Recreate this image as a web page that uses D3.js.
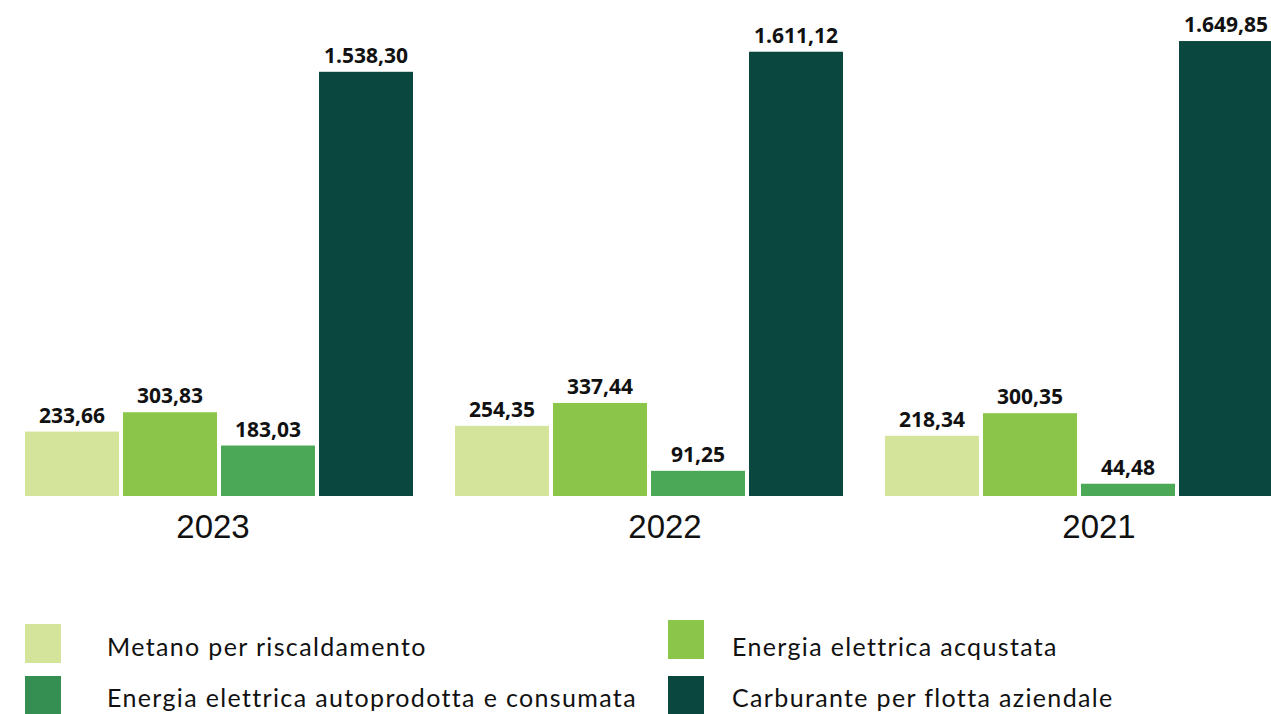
<!DOCTYPE html>
<html>
<head>
<meta charset="utf-8">
<script src="https://cdn.jsdelivr.net/npm/d3@7"></script>
<style>
  html, body { margin: 0; padding: 0; background: #fff; }
  svg { display: block; }
</style>
</head>
<body>
<svg id="chart" width="1271" height="714"></svg>
<script>
// Consumi energetici per anno (GJ)
const years = ["2023", "2022", "2021"];
const series = [
  "Metano per riscaldamento",
  "Energia elettrica acqustata",
  "Energia elettrica autoprodotta e consumata",
  "Carburante per flotta aziendale"
];
const metano       = [233.66, 254.35, 218.34];
const elettrica    = [303.83, 337.44, 300.35];
const autoprodotta = [183.03, 91.25, 44.48];
const carburante   = [1538.30, 1611.12, 1649.85];

const barColors    = ["#d4e59b", "#8bc64a", "#4aa856", "#09473f"];
const legendColors = ["#d4e59b", "#8bc64a", "#358e52", "#09473f"];

const values = [metano, elettrica, autoprodotta, carburante];
const fmt = v => v.toLocaleString("it-IT", { minimumFractionDigits: 2, maximumFractionDigits: 2 });

const svg = d3.select("#chart");

const x0 = d3.scaleBand().domain(years).range([25, 1273]).paddingInner(42 / 430).paddingOuter(0);
const x1 = d3.scaleBand().domain(series).range([0, x0.bandwidth()]).paddingInner(4 / 98).paddingOuter(0);
const y = d3.scaleLinear().domain([0, 1650]).range([496, 41]);

// year captions sit slightly off the group centres
const yearShift = [-6, 16, 20];

const groups = svg.selectAll("g.year")
  .data(years)
  .join("g")
  .attr("class", "year")
  .attr("transform", d => `translate(${x0(d)},0)`);

groups.each(function (yr, yi) {
  const g = d3.select(this);
  const rows = series.map((s, si) => ({ s, si, v: values[si][yi] }));
  g.selectAll("rect")
    .data(rows)
    .join("rect")
    .attr("x", d => x1(d.s))
    .attr("width", x1.bandwidth())
    .attr("y", d => y(d.v))
    .attr("height", d => y(0) - y(d.v))
    .attr("fill", d => barColors[d.si]);
  g.selectAll("text.val")
    .data(rows)
    .join("text")
    .attr("class", "val")
    .attr("x", d => x1(d.s) + x1.bandwidth() / 2)
    .attr("y", d => y(d.v) - 9)
    .attr("text-anchor", "middle")
    .attr("font-family", "'Open Sans', sans-serif")
    .attr("font-weight", "bold")
    .attr("font-size", 21)
    .attr("fill", "#111")
    .text(d => fmt(d.v));
  g.append("text")
    .attr("x", x0.bandwidth() / 2 + yearShift[yi])
    .attr("y", 538)
    .attr("text-anchor", "middle")
    .attr("font-family", "'Liberation Sans', Arial, sans-serif")
    .attr("font-size", 33)
    .attr("fill", "#111")
    .text(yr);
});

// Legend
const legendPos = [
  { x: 25, y: 624, tx: 107, ty: 656 },
  { x: 668, y: 620, tx: 732, ty: 656 },
  { x: 25, y: 676, tx: 107, ty: 707 },
  { x: 668, y: 676, tx: 732, ty: 707 }
];
const legend = svg.selectAll("g.leg")
  .data(series)
  .join("g")
  .attr("class", "leg");
legend.append("rect")
  .attr("x", (d, i) => legendPos[i].x)
  .attr("y", (d, i) => legendPos[i].y)
  .attr("width", 36)
  .attr("height", 39)
  .attr("fill", (d, i) => legendColors[i]);
legend.append("text")
  .attr("x", (d, i) => legendPos[i].tx)
  .attr("y", (d, i) => legendPos[i].ty)
  .attr("font-family", "Lato, sans-serif")
  .attr("font-size", 25)
  .attr("letter-spacing", 1.35)
  .attr("fill", "#111")
  .text(d => d);
</script>
</body>
</html>
